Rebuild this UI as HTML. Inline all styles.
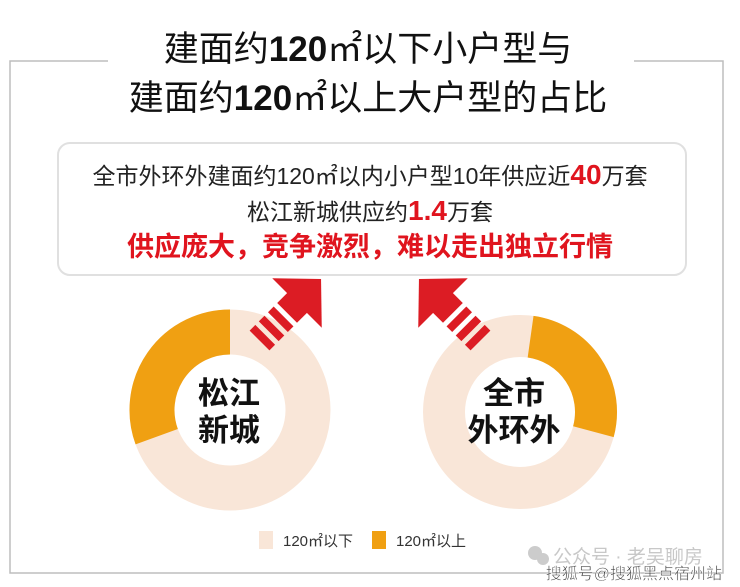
<!DOCTYPE html>
<html><head><meta charset="utf-8"><style>
body{margin:0;width:740px;height:587px;background:#fff;overflow:hidden;font-family:"Liberation Sans","Noto Sans CJK SC",sans-serif;}
</style></head><body>
<svg width="740" height="587" viewBox="0 0 740 587" xmlns="http://www.w3.org/2000/svg" style="position:absolute;left:0;top:0">
<g stroke="#bdbdbd" stroke-width="1.5" fill="none">
<polyline points="108,61 10,61 10,573 723,573 723,61 634,61"/>
</g>
<g font-family="Liberation Sans,Noto Sans CJK SC,sans-serif" fill="#111" text-anchor="middle" font-size="35">
<text x="368" y="61">建面约<tspan font-weight="bold">120</tspan>㎡以下小户型与</text>
<text x="368" y="110">建面约<tspan font-weight="bold">120</tspan>㎡以上大户型的占比</text>
</g>
<rect x="58" y="143" width="628" height="132" rx="12" fill="#fff" stroke="#e0e0e0" stroke-width="2"/>
<g font-family="Liberation Sans,Noto Sans CJK SC,sans-serif" text-anchor="middle">
<text x="370" y="184" font-size="23" fill="#222">全市外环外建面约120㎡以内小户型10年供应近<tspan fill="#e0141e" font-weight="bold" font-size="28">40</tspan>万套</text>
<text x="370" y="220" font-size="23" fill="#222">松江新城供应约<tspan fill="#e0141e" font-weight="bold" font-size="28">1.4</tspan>万套</text>
<text x="370" y="256" font-size="27" fill="#e0141e" font-weight="bold">供应庞大，竞争激烈，难以走出独立行情</text>
</g>
<circle cx="230" cy="410" r="78" fill="none" stroke="#f9e6d8" stroke-width="45"/>
<path d="M156.7,436.7 A78,78 0 0 1 230,332" fill="none" stroke="#f0a012" stroke-width="45"/>
<circle cx="520" cy="412" r="76" fill="none" stroke="#f9e6d8" stroke-width="42"/>
<path d="M530.6,336.7 A76,76 0 0 1 593.4,431.7" fill="none" stroke="#f0a012" stroke-width="42"/>
<g fill="#dc1c24">
<g transform="translate(297,303) rotate(45)">
<polygon points="-35,0 35,0 0,-34"/><rect x="-14" y="-1" width="28" height="15"/>
<rect x="-14" y="19" width="28" height="8"/><rect x="-14" y="32" width="28" height="8"/><rect x="-14" y="45" width="28" height="8"/>
</g>
<g transform="translate(443,303) rotate(-45)">
<polygon points="-35,0 35,0 0,-34"/><rect x="-14" y="-1" width="28" height="15"/>
<rect x="-14" y="19" width="28" height="8"/><rect x="-14" y="32" width="28" height="8"/><rect x="-14" y="45" width="28" height="8"/>
</g>
</g>
<g font-family="Liberation Sans,Noto Sans CJK SC,sans-serif" text-anchor="middle" font-size="31" fill="#111" font-weight="bold">
<text x="229" y="404">松江</text><text x="229" y="441">新城</text>
<text x="514" y="404">全市</text><text x="514" y="441">外环外</text>
</g>
<rect x="259" y="531" width="14" height="18" fill="#f9e6d8"/>
<text x="283" y="546" font-size="15" fill="#333" font-family="Liberation Sans,Noto Sans CJK SC,sans-serif">120㎡以下</text>
<rect x="372" y="531" width="14" height="18" fill="#f0a012"/>
<text x="396" y="546" font-size="15" fill="#333" font-family="Liberation Sans,Noto Sans CJK SC,sans-serif">120㎡以上</text>
<g font-family="Liberation Sans,Noto Sans CJK SC,sans-serif">
<circle cx="535" cy="553" r="7" fill="#ccc"/><circle cx="543" cy="559" r="6" fill="#ccc"/>
<text x="553" y="563" font-size="19" fill="#c8c8c8">公众号 · 老吴聊房</text>
<text x="722" y="579" font-size="16" fill="#333" text-anchor="end" stroke="#fff" stroke-width="0.5">搜狐号@搜狐黑点宿州站</text>
</g>
</svg>
</body></html>
